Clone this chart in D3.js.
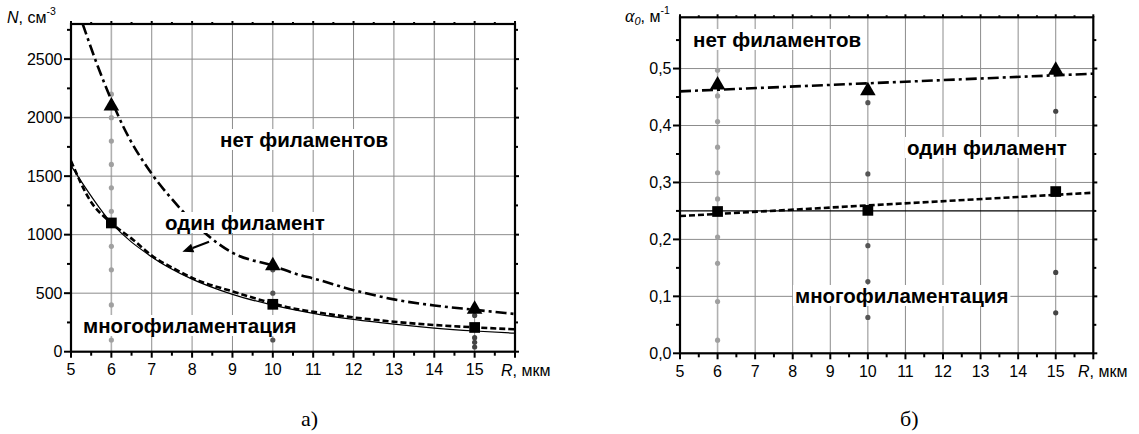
<!DOCTYPE html>
<html><head><meta charset="utf-8">
<script src="https://cdn.jsdelivr.net/npm/d3@7"></script>
<style>
body{margin:0;background:#fff;}
svg{display:block;}
svg text{font-family:"Liberation Sans",Arial,sans-serif;}
</style></head>
<body><svg id="c" width="1139" height="434"></svg>
<script>
// ---------- data: panel a) ----------
const xTicks = [5,6,7,8,9,10,11,12,13,14,15];
const leftYTicks = [0,500,1000,1500,2000,2500];
const radii = [6,10,15];
const nNone = [2100,735,362];          // triangles
const nOne = [1100,405,207];           // squares
const curveNoneR = [5.29,5.64,6.0,6.3,7.0,7.46,9.03,10.0,10.68,11.0,12.0,13.0,14.0,15.0,16.0];
const curveNoneN = [2800,2460,2150,1920,1520,1320,840,735,654,626,526,447,395,358,322];
const curveOneR = [5.0,5.47,6.0,6.55,7.04,7.54,8.03,9.03,10.0,10.68,11.0,12.0,13.0,14.0,15.0,16.0];
const curveOneN = [1630,1294,1100,953,811,712,626,512,413,358,341,293,256,228,208,191];
const fitR = [5,6,7,8,9,10,11,12,13,14,15,16];
const fitN = [1590,1100,810,620,490,398,328,276,235,202,177,158];
const dotsLeft6 = [2200,2000,1800,1600,1400,1200,900,700,400,100];
const dotsLeft10 = [700,500,100];
const dotsLeft15 = [310,120,80,40];
// ---------- data: panel б) ----------
const rightYTicks = [0,0.1,0.2,0.3,0.4,0.5];
const aNone = [0.471,0.461,0.497];
const aOne = [0.249,0.251,0.284];
const lineR = [5,16];
const lineNoneA = [0.460,0.491];
const lineOneA = [0.241,0.282];
const thresholdA = 0.25;
const dotsRight6 = [0.497,0.452,0.407,0.362,0.317,0.271,0.204,0.158,0.091,0.023];
const dotsRight10 = [0.440,0.315,0.189,0.126,0.063];
const dotsRight15 = [0.425,0.142,0.071];

const svg = d3.select("#c");
const TICK_FS = 16, LABEL_FS = 20.5;

function panel(o){
  const g = svg.append("g");
  const x = d3.scaleLinear().domain([5,16]).range([o.x0,o.x1]);
  const y = d3.scaleLinear().domain(o.ydom).range([o.y1,o.y0]);
  d3.range(6,16).forEach(v=>{
    g.append("line").attr("x1",x(v)).attr("x2",x(v)).attr("y1",o.y0).attr("y2",o.y1)
     .attr("stroke", v===6? "#b0b0b0":"#8c8c8c").attr("stroke-width", v===6?1.6:1);
  });
  o.yticks.forEach(v=>{ if(v>o.ydom[0]) g.append("line").attr("x1",o.x0).attr("x2",o.x1)
     .attr("y1",y(v)).attr("y2",y(v)).attr("stroke","#8c8c8c").attr("stroke-width",1);});
  return {g,x,y};
}
function frame(p,o){
  const {g,x,y}=p;
  const xMinor = d3.range(5,16.01,0.5);
  const yMinor = d3.range(o.ydom[0], o.ydom[1]+1e-9, o.ystep/2);
  const b = g.append("g").attr("stroke","#000").attr("stroke-width",2);
  xMinor.forEach(v=>{
    const maj = Math.abs(v-Math.round(v))<1e-6;
    b.append("line").attr("x1",x(v)).attr("x2",x(v)).attr("y1",o.y1).attr("y2",o.y1+(maj?6:4));
    b.append("line").attr("x1",x(v)).attr("x2",x(v)).attr("y1",o.y0).attr("y2",o.y0-(maj?3:2));
  });
  yMinor.forEach(v=>{
    const maj = o.yticks.some(t=>Math.abs(t-v)<1e-9);
    b.append("line").attr("y1",y(v)).attr("y2",y(v)).attr("x1",o.x0).attr("x2",o.x0-(maj?7:4));
    b.append("line").attr("y1",y(v)).attr("y2",y(v)).attr("x1",o.x1).attr("x2",o.x1+(maj?4:3));
  });
  g.append("rect").attr("x",o.x0).attr("y",o.y0).attr("width",o.x1-o.x0).attr("height",o.y1-o.y0)
   .attr("fill","none").attr("stroke","#000").attr("stroke-width",2.2);
  xTicks.forEach(v=>{
    g.append("text").attr("x",x(v)).attr("y",o.y1+23.5).attr("text-anchor","middle")
     .attr("font-size",TICK_FS).text(v);
  });
  o.yticks.forEach(v=>{
    g.append("text").attr("x",o.x0-8.5).attr("y",y(v)+5.5).attr("text-anchor","end")
     .attr("font-size",TICK_FS).text(o.fmt(v));
  });
}
function dots(p, r, vals, col){
  p.g.append("g").selectAll("circle").data(vals).join("circle")
   .attr("cx",p.x(r)).attr("cy",d=>p.y(d)).attr("r",2.6).attr("fill",col);
}
function markers(p, vals, type){
  const sym = d3.symbol().type(type==="tri"?d3.symbolTriangle:d3.symbolSquare).size(type==="tri"?105:115);
  p.g.append("g").selectAll("path").data(vals).join("path")
   .attr("transform",(d,i)=>`translate(${p.x(radii[i])},${p.y(d)})`)
   .attr("d",sym).attr("fill","#000");
}
function curve(p, xs, ys, dash, w, type){
  const line = d3.line().x(d=>p.x(d[0])).y(d=>p.y(d[1])).curve(type||d3.curveMonotoneX);
  p.g.append("path").datum(xs.map((v,i)=>[v,ys[i]])).attr("d",line)
   .attr("fill","none").attr("stroke","#000").attr("stroke-width",w)
   .attr("stroke-dasharray",dash);
}
function label(p, txt, x0, base){
  const t = p.g.append("text").attr("x",x0).attr("y",base).attr("font-size",LABEL_FS)
    .attr("font-weight","bold").text(txt);
  const bb = t.node().getBBox();
  p.g.insert("rect", function(){return t.node();}).attr("x",bb.x-2).attr("y",bb.y+1)
    .attr("width",bb.width+4).attr("height",bb.height-2).attr("fill","#fff");
}

// ---------- panel a ----------
const oa = {x0:71,x1:515,y0:24,y1:351.7,ydom:[0,2800],yticks:leftYTicks,ystep:500,fmt:d3.format("d")};
const pa = panel(oa);
svg.append("clipPath").attr("id","ca").append("rect")
  .attr("x",oa.x0).attr("y",oa.y0).attr("width",oa.x1-oa.x0).attr("height",oa.y1-oa.y0);
dots(pa,6,dotsLeft6,"#a0a0a0");
dots(pa,10,dotsLeft10,"#555");
dots(pa,15,dotsLeft15,"#444");
const ca = pa.g.append("g").attr("clip-path","url(#ca)");
const pac = {g:ca,x:pa.x,y:pa.y};
curve(pac, fitR, fitN, null, 1.2);
curve(pac, curveOneR, curveOneN, "6,3", 2.6);
curve(pac, curveNoneR, curveNoneN, "11,4,3,4", 2.6);
markers(pa, nNone, "tri");
markers(pa, nOne, "sq");
label(pa,"нет филаментов",220,147);
label(pa,"один филамент",165,230);
label(pa,"многофиламентация",83,333);
const arrTail=[8.42,939], arrHead=[7.76,853];
{
  const x1=pa.x(arrTail[0]),y1=pa.y(arrTail[1]),x2=pa.x(arrHead[0]),y2=pa.y(arrHead[1]);
  const ang=Math.atan2(y2-y1,x2-x1), L=11, W=4.5;
  const bx=x2-L*Math.cos(ang), by=y2-L*Math.sin(ang);
  pa.g.append("line").attr("x1",x1).attr("y1",y1).attr("x2",bx).attr("y2",by).attr("stroke","#000").attr("stroke-width",2.2);
  pa.g.append("path").attr("d",`M${x2},${y2}L${bx+W*Math.sin(ang)},${by-W*Math.cos(ang)}L${bx-W*Math.sin(ang)},${by+W*Math.cos(ang)}Z`).attr("fill","#000");
}
frame(pa,oa);
{
  const t=svg.append("text").attr("x",7).attr("y",23).attr("font-size",16);
  t.append("tspan").attr("font-style","italic").text("N");
  t.append("tspan").text(", см");
  t.append("tspan").attr("font-size",10.5).attr("dy",-8).text("-3");
  const r=svg.append("text").attr("x",501).attr("y",375.5).attr("font-size",16);
  r.append("tspan").attr("font-style","italic").text("R");
  r.append("tspan").text(", мкм");
  svg.append("text").attr("x",301).attr("y",426).attr("font-family","'Liberation Serif',serif").style("font-family","'Liberation Serif',serif").attr("font-size",22).text("а)");
}

// ---------- panel б ----------
const ob = {x0:680,x1:1093.3,y0:17.3,y1:353.3,ydom:[0,0.59],yticks:rightYTicks,ystep:0.1,fmt:v=>d3.format(".1f")(v).replace(".",",")};
const pb = panel(ob);
dots(pb,6,dotsRight6,"#a0a0a0");
dots(pb,10,dotsRight10,"#555");
dots(pb,15,dotsRight15,"#444");
pb.g.append("line").attr("x1",ob.x0).attr("x2",ob.x1).attr("y1",pb.y(thresholdA)).attr("y2",pb.y(thresholdA))
  .attr("stroke","#000").attr("stroke-width",1.2);
curve(pb, lineR, lineOneA, "6,3", 2.6, d3.curveLinear);
curve(pb, lineR, lineNoneA, "11,4,3,4", 2.6, d3.curveLinear);
markers(pb, aNone, "tri");
markers(pb, aOne, "sq");
label(pb,"нет филаментов",693,47);
label(pb,"один филамент",907,155);
label(pb,"многофиламентация",795,303);
frame(pb,ob);
{
  const t=svg.append("text").attr("x",625).attr("y",22).attr("font-size",16);
  t.append("tspan").attr("font-style","italic").style("font-family","'Liberation Serif',serif").attr("font-size",18).text("α");
  t.append("tspan").attr("font-style","italic").attr("font-size",11).attr("dy",3).text("0");
  t.append("tspan").attr("dy",-3).text(", м");
  t.append("tspan").attr("font-size",10.5).attr("dy",-8).text("-1");
  const r=svg.append("text").attr("x",1078).attr("y",377).attr("font-size",16);
  r.append("tspan").attr("font-style","italic").text("R");
  r.append("tspan").text(", мкм");
  svg.append("text").attr("x",900).attr("y",426).style("font-family","'Liberation Serif',serif").attr("font-size",22).text("б)");
}
</script></body></html>
